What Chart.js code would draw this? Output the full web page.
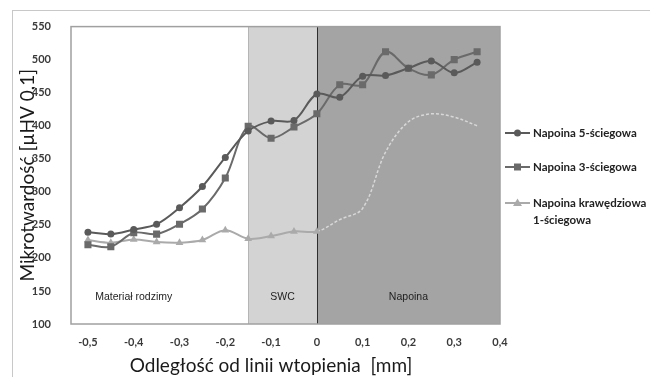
<!DOCTYPE html>
<html>
<head>
<meta charset="utf-8">
<script src="https://cdn.jsdelivr.net/npm/chart.js@4.4.0/dist/chart.umd.min.js"></script>
<style>
  html, body { margin: 0; padding: 0; background: #fff; }
  #wrap { position: relative; width: 650px; height: 377px; overflow: hidden; }
  #frame { position: absolute; left: 12px; top: 10px; width: 700px; height: 400px; border: 1.5px solid #c8c8c8; }
  canvas { position: absolute; left: 0; top: 0; }
</style>
</head>
<body>
<div id="wrap">
  <div id="frame"></div>
  <canvas id="chart" width="650" height="377"></canvas>
</div>
<script>
// distance from the fusion line [mm]
const distances = [-0.5, -0.45, -0.4, -0.35, -0.3, -0.25, -0.2, -0.15, -0.1, -0.05, 0, 0.05, 0.1, 0.15, 0.2, 0.25, 0.3, 0.35];

// microhardness, one array per weld
const napoina5 = [239, 236, 243, 251, 276, 308, 352, 392, 407, 408, 448, 443, 475, 476, 487, 498, 480, 496];
const napoina3 = [220, 217, 238, 236, 251, 274, 321, 399, 381, 398, 418, 462, 462, 512, 487, 477, 500, 512];
const napoinaKraw = [227, 223, 228, 224, 223, 227, 242, 229, 233, 240, 240, 258, 275, 360, 406, 418, 413, 400];

const seriesNames = ["Napoina 5-ściegowa", "Napoina 3-ściegowa", ["Napoina krawędziowa", "1-ściegowa"]];

// zones: material / SWC / weld
const zoneEdges = [-0.537, -0.15, 0, 0.4];
const zoneLabels = ["Materiał rodzimy", "SWC", "Napoina"];
const zoneLabelX = [-0.4, -0.075, 0.2];
const zoneLabelY = 141;

const xTicks = [-0.5, -0.4, -0.3, -0.2, -0.1, 0, 0.1, 0.2, 0.3, 0.4];
const xTitle = "Odległość od linii wtopienia  [mm]";

const toPoints = (arr) => arr.map((v, i) => ({ x: distances[i], y: v }));
const fmt = (v) => (Math.round(v * 10) / 10).toString().replace(".", ",");

// background zones + plot frame
const zonesPlugin = {
  id: "zones",
  beforeDatasetsDraw(chart) {
    const { ctx, chartArea: a, scales: { x } } = chart;
    const fills = ["#ffffff", "#d3d3d3", "#a4a4a4"];
    ctx.save();
    for (let i = 0; i < 3; i++) {
      const x0 = x.getPixelForValue(zoneEdges[i]);
      const x1 = x.getPixelForValue(zoneEdges[i + 1]);
      ctx.fillStyle = fills[i];
      ctx.fillRect(x0, a.top, x1 - x0, a.bottom - a.top);
    }
    // zone borders
    ctx.lineWidth = 1;
    ctx.strokeStyle = "#b5b5b5";
    let px = Math.round(x.getPixelForValue(-0.15)) + 0.5;
    ctx.beginPath(); ctx.moveTo(px, a.top); ctx.lineTo(px, a.bottom); ctx.stroke();
    ctx.strokeStyle = "#2e2e2e";
    px = Math.round(x.getPixelForValue(0)) + 0.5;
    ctx.beginPath(); ctx.moveTo(px, a.top); ctx.lineTo(px, a.bottom); ctx.stroke();

    // frame
    ctx.strokeStyle = "#a0a0a0";
    ctx.lineWidth = 1.5;
    ctx.strokeRect(a.left, a.top, a.right - a.left, a.bottom - a.top);

    // zone names
    ctx.fillStyle = "#1e1e1e";
    ctx.font = "10.5px 'Liberation Sans', Arial, sans-serif";
    ctx.textAlign = "center";
    ctx.textBaseline = "middle";
    const yPx = chart.scales.y.getPixelForValue(zoneLabelY);
    zoneLabels.forEach((t, i) => ctx.fillText(t, x.getPixelForValue(zoneLabelX[i]), yPx));
    ctx.restore();
  }
};

// legend on the right, drawn by hand (two-line label), plus x axis title
const sideLegend = {
  id: "sideLegend",
  afterDraw(chart) {
    const { ctx } = chart;
    const rows = [133, 167, 203];
    ctx.save();
    chart.data.datasets.forEach((ds, i) => {
      const y = rows[i];
      ctx.strokeStyle = ds.borderColor;
      ctx.lineWidth = 2;
      ctx.beginPath(); ctx.moveTo(505, y); ctx.lineTo(530, y); ctx.stroke();
      ctx.fillStyle = ds.pointBackgroundColor;
      ctx.beginPath();
      if (ds.pointStyle === "circle") {
        ctx.arc(517.5, y, 3.5, 0, Math.PI * 2);
      } else if (ds.pointStyle === "rect") {
        ctx.rect(514, y - 3.5, 7, 7);
      } else {
        ctx.moveTo(517.5, y - 4.5); ctx.lineTo(522, y + 3); ctx.lineTo(513, y + 3); ctx.closePath();
      }
      ctx.fill();
      ctx.fillStyle = "#222";
      ctx.font = "bold 11.5px Lato, sans-serif";
      ctx.textAlign = "left";
      ctx.textBaseline = "middle";
      const lines = Array.isArray(seriesNames[i]) ? seriesNames[i] : [seriesNames[i]];
      lines.forEach((t, k) => ctx.fillText(t, 533, y + k * 17));
    });

    // x title (sits a bit left of the plot centre in the original)
    ctx.fillStyle = "#1a1a1a";
    ctx.font = "19px Lato, sans-serif";
    ctx.textAlign = "center";
    ctx.textBaseline = "middle";
    ctx.fillText(xTitle, 271, 366);
    ctx.restore();
  }
};

new Chart(document.getElementById("chart"), {
  type: "line",
  data: {
    datasets: [
      {
        label: "Napoina 5-ściegowa",
        data: toPoints(napoina5),
        borderColor: "#5a5a5a",
        backgroundColor: "#5a5a5a",
        pointBackgroundColor: "#5a5a5a",
        pointBorderWidth: 0,
        pointStyle: "circle",
        pointRadius: 3.5,
        borderWidth: 2,
        tension: 0.35
      },
      {
        label: "Napoina 3-ściegowa",
        data: toPoints(napoina3),
        borderColor: "#6a6a6a",
        backgroundColor: "#6a6a6a",
        pointBackgroundColor: "#6a6a6a",
        pointBorderWidth: 0,
        pointStyle: "rect",
        pointRadius: 5,
        borderWidth: 2,
        tension: 0.35
      },
      {
        label: "Napoina krawędziowa 1-ściegowa",
        data: toPoints(napoinaKraw),
        borderColor: "#aaaaaa",
        backgroundColor: "#aaaaaa",
        pointBackgroundColor: "#aaaaaa",
        pointBorderWidth: 0,
        pointStyle: "triangle",
        pointRadius: (c) => (distances[c.dataIndex] > 0 ? 0 : 4.5),
        borderWidth: 2,
        tension: 0.35,
        segment: {
          borderColor: (c) => (c.p0.parsed.x >= 0 ? "#d8d8d8" : undefined),
          borderDash: (c) => (c.p0.parsed.x >= 0 ? [3, 2] : undefined),
          borderWidth: (c) => (c.p0.parsed.x >= 0 ? 1.5 : undefined)
        }
      }
    ]
  },
  options: {
    responsive: false,
    animation: false,
    layout: { padding: { left: 12, top: 20, right: 150, bottom: 0 } },
    plugins: { legend: { display: false }, tooltip: { enabled: false } },
    scales: {
      x: {
        type: "linear",
        min: zoneEdges[0],
        max: 0.4,
        grid: { display: false, drawTicks: false },
        border: { display: false },
        afterBuildTicks: (s) => { s.ticks = xTicks.map((v) => ({ value: v })); },
        afterFit: (s) => { s.height = 53; },
        ticks: {
          padding: 12,
          color: "#3a3a3a",
          font: { family: "Lato", weight: "bold", size: 11 },
          callback: (v) => fmt(v),
          maxRotation: 0
        },
        title: { display: false }
      },
      y: {
        min: 100,
        max: 550,
        grid: { display: false, drawTicks: false },
        border: { display: false },
        afterFit: (s) => { s.width = 59; },
        ticks: {
          stepSize: 50,
          padding: 20,
          color: "#3a3a3a",
          font: { family: "Lato", weight: "bold", size: 11 }
        },
        title: {
          display: true,
          text: "Mikrotwardość [µHV 0,1]",
          color: "#1a1a1a",
          font: { family: "Lato", size: 19 },
          padding: { top: 4, bottom: 0 }
        }
      }
    }
  },
  plugins: [zonesPlugin, sideLegend]
});
</script>
</body>
</html>
